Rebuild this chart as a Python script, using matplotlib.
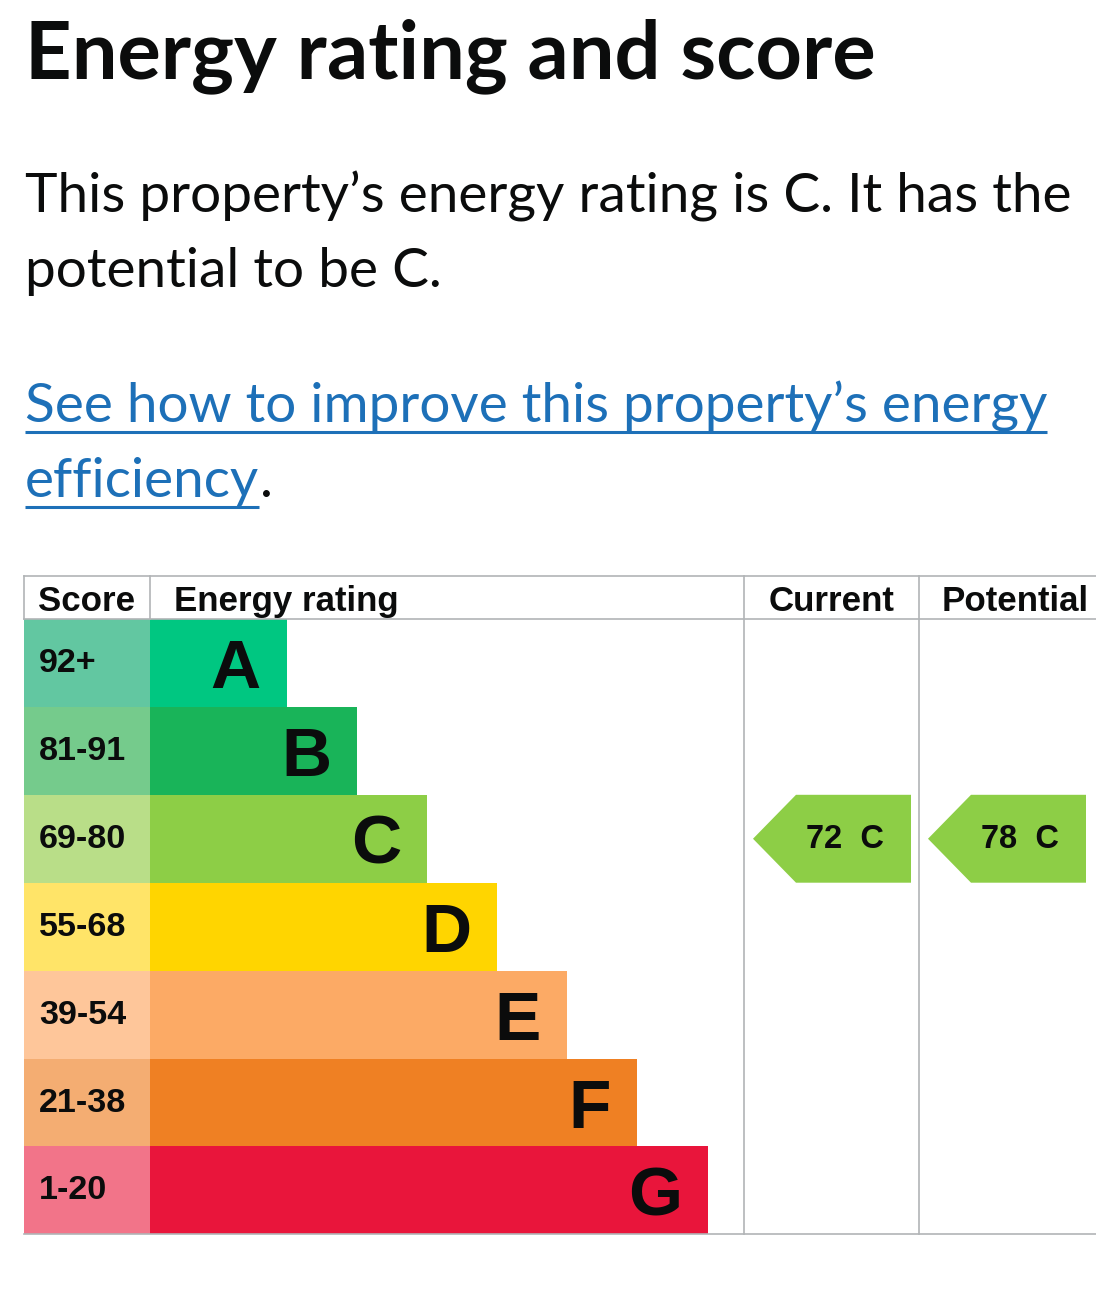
import matplotlib
matplotlib.use("Agg")
import matplotlib.pyplot as plt

# chart data
bands = ["A", "B", "C", "D", "E", "F", "G"]
score_ranges = ["92+", "81-91", "69-80", "55-68", "39-54", "21-38", "1-20"]
band_floor = [92, 81, 69, 55, 39, 21, 1]
bar_lengths = [137, 207, 277, 347, 417, 487, 558]
band_colours = ["#00c781", "#19b459", "#8dce46", "#ffd500", "#fcaa65", "#ef8023", "#e9153b"]
score_colours = ["#62c7a1", "#75cb8c", "#b9de88", "#ffe468", "#fec69a", "#f4ad72", "#f27489"]
current_score = 72
potential_score = 78

title = "Energy rating and score"
body_lines = ["This property\u2019s energy rating is C. It has the", "potential to be C."]
link_lines = ["See how to improve this property\u2019s energy", "efficiency"]
headers = ["Score", "Energy rating", "Current", "Potential"]

GREY = "#b1b4b6"
LINK = "#1d70b8"
INK = "#0b0c0c"
HEAD_FONT = "Lato"
TABLE_FONT = "Liberation Sans"

fig = plt.figure(figsize=(10.96, 12.9), dpi=100)
ax = fig.add_axes([0, 0, 1, 1])
ax.set_xlim(0, 1096)
ax.set_ylim(1290, 0)
ax.axis("off")
renderer = fig.canvas.get_renderer()


def text_width(t):
    return t.get_window_extent(renderer).width


def fit_size(s, width, **kw):
    t = ax.text(0, 0, s, fontsize=20, **kw)
    size = 20 * width / text_width(t)
    t.remove()
    return size


# heading and paragraphs
size = fit_size(title, 850, family=HEAD_FONT, weight="bold")
ax.text(25, 78, title, fontsize=size, va="baseline", family=HEAD_FONT, weight="bold", color=INK)

body_size = fit_size(body_lines[0], 1050, family=HEAD_FONT)
for k, line in enumerate(body_lines):
    ax.text(25, 212 + 75 * k, line, fontsize=body_size, va="baseline", family=HEAD_FONT, color=INK)

link_size = fit_size(link_lines[0], 1025, family=HEAD_FONT)
for k, line in enumerate(link_lines):
    y = 422 + 75 * k
    t = ax.text(25, y, line, fontsize=link_size, va="baseline", family=HEAD_FONT, color=LINK)
    w = text_width(t)
    ax.plot([25, 25 + w], [y + 10, y + 10], color=LINK, lw=2.2, solid_capstyle="butt")
    if k == len(link_lines) - 1:
        ax.text(25 + w + 1, y, ".", fontsize=link_size, va="baseline", family=HEAD_FONT, color=INK)

# table geometry
top, head_bottom = 576, 619
row_h = 87.9
left, score_right = 24, 150
col_cur, col_pot, right = 744, 919, 1096
table_bottom = head_bottom + row_h * len(bands)

# header
hs = fit_size(headers[1], 224, family=TABLE_FONT, weight="bold")
for label, x, ha in zip(headers, [38, 174, (col_cur + col_pot) / 2, 1015],
                        ["left", "left", "center", "center"]):
    ax.text(x, 611, label, fontsize=hs, family=TABLE_FONT, weight="bold",
            ha=ha, va="baseline", color=INK)

# bands
ss = fit_size("81-91", 87, family=TABLE_FONT, weight="bold")
centres = [head_bottom + row_h * (i + 0.5) for i in range(len(bands))]
ax.barh(centres, [score_right - left] * len(bands), left=left, height=row_h,
        color=score_colours, linewidth=0)
ax.barh(centres, bar_lengths, left=score_right, height=row_h,
        color=band_colours, linewidth=0)
for i, b in enumerate(bands):
    row_top = head_bottom + row_h * i
    ax.text(39, row_top + 53, score_ranges[i], fontsize=ss, family=TABLE_FONT,
            weight="bold", va="baseline", color=INK)
    ax.text(score_right + bar_lengths[i] - 26, row_top + 69, b, fontsize=50,
            family=TABLE_FONT, weight="bold", ha="right", va="baseline", color=INK)


def band_index(score):
    for i, f in enumerate(band_floor):
        if score >= f:
            return i
    return len(band_floor) - 1


arrow_size = fit_size("72  C", 78, family=TABLE_FONT, weight="bold")


def rating_arrow(score, col_left):
    i = band_index(score)
    y0 = head_bottom + row_h * i
    y1 = y0 + row_h
    tip = col_left + 9
    notch = tip + 43
    end = tip + 158
    ax.fill([tip, notch, end, end, notch], [(y0 + y1) / 2, y0, y0, y1, y1],
            color=band_colours[i], linewidth=0)
    ax.text(notch + 10, y0 + 53, f"{score}  {bands[i]}", fontsize=arrow_size,
            family=TABLE_FONT, weight="bold", va="baseline", color=INK)


rating_arrow(current_score, col_cur)
rating_arrow(potential_score, col_pot)

# grid lines
lw = 1.2
ax.plot([left, right], [top, top], color=GREY, lw=lw)
ax.plot([left, right], [head_bottom, head_bottom], color=GREY, lw=lw)
ax.plot([left, right], [table_bottom, table_bottom], color=GREY, lw=lw)
ax.plot([left, left], [top, head_bottom], color=GREY, lw=lw)
ax.plot([score_right, score_right], [top, head_bottom], color=GREY, lw=lw)
ax.plot([col_cur, col_cur], [top, table_bottom], color=GREY, lw=lw)
ax.plot([col_pot, col_pot], [top, table_bottom], color=GREY, lw=lw)

fig.savefig("out.png", dpi=100)
